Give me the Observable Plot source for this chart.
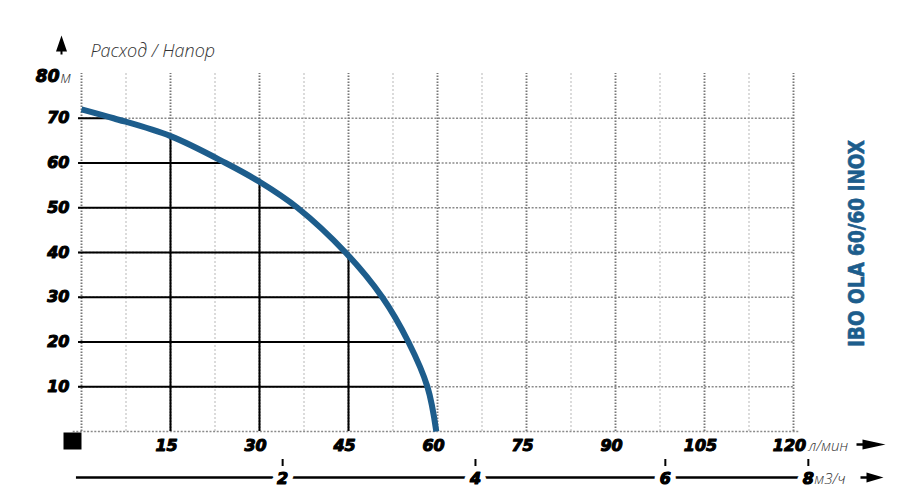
<!DOCTYPE html>
<html><head><meta charset="utf-8">
<script src="https://cdn.jsdelivr.net/npm/d3@7"></script>
<script src="https://cdn.jsdelivr.net/npm/@observablehq/plot@0.6"></script>
<style>body{margin:0;background:#fff} svg{display:block}</style>
</head><body><div id="chart"></div>
<script>
// Pump curve: flow (л/мин) vs head (м)
const flow = [0, 5.4, 15, 24.3, 30, 36.4, 44.5, 50.7, 55.1, 58.3, 59.8];
const head = [72, 70, 66, 60, 55.8, 50, 40, 30, 20, 10, 0];
const flowTicks = [15, 30, 45, 60, 75, 90, 105, 120];
const headTicks = [10, 20, 30, 40, 50, 60, 70];
const topTick = 80;
const dropFlows = [15, 30, 45];
const m3hTicks = [2, 4, 6, 8];
const m3hAt = [33.9, 66.4, 98.4, 122.5]; // where each м3/ч label sits on the л/мин scale
const title = "IBO OLA 60/60 INOX";
const yLabel = "Расход / Напор";
const xUnit = "л/мин";
const x2Unit = "м3/ч";
const yUnit = "м";

const blue = "#1d5d8c";
const font = "'Open Sans', 'DejaVu Sans', sans-serif";
const boldFont = "'DejaVu Sans', sans-serif";
const pts = flow.map((q, i) => ({q, h: head[i]}));

function headAt(q) {
  for (let i = 0; i < flow.length - 1; i++) {
    if (q >= flow[i] && q <= flow[i + 1]) {
      const t = (q - flow[i]) / (flow[i + 1] - flow[i]);
      return head[i] + t * (head[i + 1] - head[i]);
    }
  }
  return 0;
}
function flowAt(h) {
  for (let i = 0; i < head.length - 1; i++) {
    if (h <= head[i] && h >= head[i + 1]) {
      const t = (head[i] - h) / (head[i] - head[i + 1]);
      return flow[i] + t * (flow[i + 1] - flow[i]);
    }
  }
  return 0;
}

const majorX = d3.range(0, 121, 15);
const minorX = d3.range(7.5, 120, 15);

const arrowRight = {draw(c) { c.moveTo(0, 0); c.lineTo(-23, -5); c.lineTo(-23, -1.2); c.lineTo(-29, -1.2); c.lineTo(-29, 1.2); c.lineTo(-23, 1.2); c.lineTo(-23, 5); c.closePath(); }};
const arrowRight2 = {draw(c) { c.moveTo(0, 0); c.lineTo(-17, -5); c.lineTo(-17, -1.2); c.lineTo(-23, -1.2); c.lineTo(-23, 1.2); c.lineTo(-17, 1.2); c.lineTo(-17, 5); c.closePath(); }};
const arrowUp = {draw(c) { c.moveTo(0, 0); c.lineTo(5.5, 16); c.lineTo(1, 16); c.lineTo(1, 19); c.lineTo(-1, 19); c.lineTo(-1, 16); c.lineTo(-5.5, 16); c.closePath(); }};
const squareSym = {draw(c) { c.rect(-9, -8.5, 18, 17); }};
const tickSym = {draw(c) { c.rect(-1, -3.5, 2, 7); }};

const bold = {fontFamily: boldFont, fontWeight: "bold", fontStyle: "italic", fontSize: 16, fill: "black", stroke: "black", strokeWidth: 1.1};
const light = {fontFamily: font, fontWeight: 300, fontStyle: "italic", fontSize: 15, fill: "#333"};

const chart = Plot.plot({
  width: 915, height: 501,
  marginLeft: 81, marginRight: 122, marginTop: 73, marginBottom: 70,
  x: {domain: [0, 120], axis: null},
  y: {domain: [0, 80], axis: null},
  style: {background: "white", fontFamily: font, overflow: "visible"},
  marks: [
    // grid
    Plot.ruleX(minorX, {y1: 0, y2: topTick, stroke: "#c4c4c4", strokeWidth: 1.2, strokeDasharray: "2,2"}),
    Plot.ruleY(headTicks, {x1: -0.5, x2: 120, stroke: "#8a8a8a", strokeWidth: 1.4, strokeDasharray: "2,1.6"}),
    Plot.ruleY([0], {x1: -1.4, x2: 121, stroke: "#8a8a8a", strokeWidth: 1.4, strokeDasharray: "2,1.6"}),
    Plot.ruleX(majorX, {y1: 0, y2: topTick, stroke: "#777", strokeWidth: 1.9, strokeDasharray: "1.6,1.4"}),
    // black guide lines under the curve
    Plot.ruleY(headTicks, {x1: -0.5, x2: h => flowAt(h), stroke: "black", strokeWidth: 2}),
    Plot.ruleX(dropFlows, {y1: 0, y2: q => headAt(q), stroke: "black", strokeWidth: 2}),
    // curve
    Plot.line(pts, {x: "q", y: "h", curve: "catmull-rom", stroke: blue, strokeWidth: 6, strokeLinecap: "butt"}),
    // x labels (л/мин)
    Plot.text(flowTicks, {x: d => d, y: 0, dy: 14, dx: -4, text: d => String(d), ...bold}),
    Plot.text([xUnit], {x: 120, y: 0, dx: 15, dy: 15, textAnchor: "start", ...light}),
    Plot.dot([0], {x: 120, y: 0, dx: 92, dy: 13, r: 5, symbol: arrowRight, fill: "black", stroke: "none"}),
    // y labels
    Plot.text(headTicks, {x: 0, y: d => d, dx: -12, textAnchor: "end", text: d => String(d), ...bold}),
    Plot.text([topTick], {x: 0, y: topTick, dx: -22, dy: 3, textAnchor: "end", text: d => String(d), ...bold, fontSize: 17}),
    Plot.text([yUnit], {x: 0, y: topTick, dx: -21, dy: 4, textAnchor: "start", ...light, fontSize: 16}),
    Plot.dot([0], {x: 0, y: topTick, dx: -20, dy: -38, r: 5, symbol: arrowUp, fill: "black", stroke: "none"}),
    Plot.text([yLabel], {x: 0, y: topTick, dx: 9, dy: -22, textAnchor: "start", ...light, fontSize: 18}),
    // origin square
    Plot.dot([0], {x: 0, y: 0, dx: -9, dy: 9.5, r: 5, symbol: squareSym, fill: "black", stroke: "none"}),
    // second axis (м3/ч)
    Plot.ruleY([0], {x1: -0.85, x2: 121.2, dy: 46, stroke: "black", strokeWidth: 2.5}),
    Plot.text(m3hTicks, {x: (d, i) => m3hAt[i], y: 0, dy: 47, text: d => String(d), ...bold, stroke: "white", strokeWidth: 12}),
    Plot.text(m3hTicks, {x: (d, i) => m3hAt[i], y: 0, dy: 47, text: d => String(d), ...bold}),
    Plot.dot(m3hTicks, {x: (d, i) => m3hAt[i], y: 0, dy: 31, r: 3, symbol: tickSym, fill: "black", stroke: "none"}),
    Plot.text([x2Unit], {x: m3hAt[m3hAt.length - 1], y: 0, dx: 6, dy: 48, textAnchor: "start", ...light}),
    Plot.dot([0], {x: 120, y: 0, dx: 90, dy: 46, r: 5, symbol: arrowRight2, fill: "black", stroke: "none"}),
    // title
    Plot.text([title], {frameAnchor: "right", textAnchor: "middle", dx: 64, dy: -9, rotate: -90, fill: blue, stroke: blue, strokeWidth: 0.6, fontSize: 20.5, fontWeight: "bold", fontFamily: "'DejaVu Sans Condensed', 'DejaVu Sans', sans-serif"})
  ]
});
document.getElementById("chart").appendChild(chart);
</script>
</body></html>
